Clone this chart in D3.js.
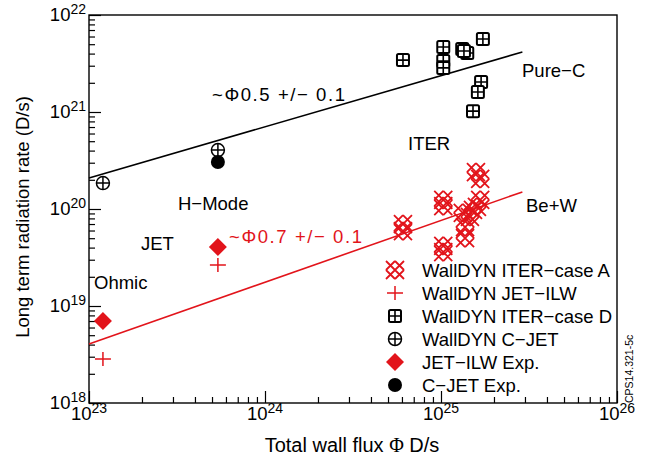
<!DOCTYPE html>
<html>
<head>
<meta charset="utf-8">
<script src="https://cdn.jsdelivr.net/npm/d3@7"></script>
<style>
  body { margin: 0; background: #fff; }
  svg text { font-family: "Liberation Sans", Arial, sans-serif; fill: #000; }
</style>
</head>
<body>
<svg id="chart" width="649" height="456"></svg>
<script>
// ---- data ----
const xDecades = [23, 24, 25, 26];
const yDecades = [18, 19, 20, 21, 22];

// WallDYN ITER-case A (red lattice crosses)
const iterA = [
  [1.58e25, 2.40e20], [1.67e25, 2.04e20], [1.03e25, 1.24e20], [1.03e25, 1.07e20],
  [6.08e24, 7.0e19], [6.08e24, 5.9e19], [1.03e25, 4.16e19], [1.03e25, 3.6e19],
  [1.67e25, 1.24e20], [1.33e25, 9.1e19], [1.46e25, 8.3e19], [1.37e25, 6.5e19],
  [1.37e25, 5.0e19], [1.52e25, 9.8e19], [1.60e25, 1.05e20]
];
// WallDYN JET-ILW (red plus)
const jetIlw = [[1.2e23, 2.85e18], [5.4e23, 2.65e19]];
// WallDYN ITER-case D (squares)
const iterD = [
  [6.08e24, 3.43e21], [1.03e25, 4.68e21], [1.03e25, 3.36e21], [1.03e25, 2.85e21],
  [1.32e25, 4.46e21], [1.41e25, 4.06e21], [1.35e25, 4.26e21], [1.73e25, 5.66e21],
  [1.69e25, 2.04e21], [1.62e25, 1.61e21], [1.52e25, 1.02e21]
];
// WallDYN C-JET (crossed circles)
const cJet = [[1.2e23, 1.85e20], [5.4e23, 4.05e20]];
// JET-ILW Exp. (red diamonds)
const jetIlwExp = [[1.2e23, 7.0e18], [5.4e23, 4.06e19]];
// C-JET Exp. (filled circles)
const cJetExp = [[5.4e23, 3.05e20]];

// fitted power laws
const fitC = [[1e23, 2.09e20], [2.9e25, 4.16e21]];
const fitBeW = [[1e23, 4.06e18], [2.9e25, 1.5e20]];

const legendLabels = [
  'WallDYN ITER\u2212case A', 'WallDYN JET\u2212ILW', 'WallDYN ITER\u2212case D',
  'WallDYN C\u2212JET', 'JET\u2212ILW Exp.', 'C\u2212JET Exp.'
];

// ---- layout ----
const RED = '#e2141b';
const margin = { top: 15, right: 32, bottom: 53, left: 89 };
const W = 649, H = 456;
const width = W - margin.left - margin.right;
const height = H - margin.top - margin.bottom;

const svg = d3.select('#chart');
const g = svg.append('g').attr('transform', `translate(${margin.left},${margin.top})`);

const x = d3.scaleLog().domain([1e23, 1e26]).range([0, width]);
const y = d3.scaleLog().domain([1e18, 1e22]).range([height, 0]);

const isMajor = d => Math.abs(Math.log10(d) - Math.round(Math.log10(d))) < 1e-6;

// ticks pointing inward, only on left and bottom
g.append('g')
  .attr('transform', `translate(0,${height})`)
  .call(d3.axisBottom(x).tickValues(x.ticks()).tickSize(-6).tickFormat(''))
  .call(ax => ax.select('.domain').remove())
  .call(ax => ax.selectAll('.tick line')
    .attr('y2', d => isMajor(d) ? -12 : -6)
    .attr('stroke', '#000').attr('stroke-width', 1.2));

g.append('g')
  .call(d3.axisLeft(y).tickValues(y.ticks()).tickSize(-6).tickFormat(''))
  .call(ax => ax.select('.domain').remove())
  .call(ax => ax.selectAll('.tick line')
    .attr('x2', d => isMajor(d) ? 12 : 6)
    .attr('stroke', '#000').attr('stroke-width', 1.2));

// frame
g.append('rect')
  .attr('width', width).attr('height', height)
  .attr('fill', 'none').attr('stroke', '#000').attr('stroke-width', 1.4);

// tick labels with superscripts
xDecades.forEach(k => {
  const t = g.append('text')
    .attr('x', x(Math.pow(10, k)))
    .attr('y', height + 17)
    .attr('text-anchor', 'middle')
    .attr('font-size', '18.5px');
  t.append('tspan').text('10');
  t.append('tspan').attr('dy', -7).attr('font-size', '14px').text(k);
});
yDecades.forEach(k => {
  const t = g.append('text')
    .attr('x', -3)
    .attr('y', y(Math.pow(10, k)) + 6)
    .attr('text-anchor', 'end')
    .attr('font-size', '18.5px');
  t.append('tspan').text('10');
  t.append('tspan').attr('dy', -7).attr('font-size', '14px').text(k);
});

// axis titles
const xt = svg.append('text')
  .attr('x', 352).attr('y', 452)
  .attr('text-anchor', 'middle')
  .attr('font-size', '20px');
xt.append('tspan').text('Total wall flux ');
xt.append('tspan').style('font-family', '"Liberation Serif", serif').text('\u03A6');
xt.append('tspan').text(' D/s');

svg.append('text')
  .attr('transform', 'translate(28.5,217) rotate(-90)')
  .attr('text-anchor', 'middle')
  .attr('font-size', '18.5px')
  .text('Long term radiation rate (D/s)');

svg.append('text')
  .attr('transform', 'translate(633,403) rotate(-90)')
  .attr('font-size', '10.5px')
  .text('CPS14.321-5c');

// fit lines
const line = d3.line().x(d => x(d[0])).y(d => y(d[1]));
g.append('path').datum(fitC)
  .attr('fill', 'none').attr('stroke', '#000').attr('stroke-width', 1.6).attr('d', line);
g.append('path').datum(fitBeW)
  .attr('fill', 'none').attr('stroke', RED).attr('stroke-width', 1.6).attr('d', line);

// ---- marker painters ----
function latticePath(s) {
  // three lines per diagonal direction, clipped to a square of half-size s
  const p = [];
  [-s, 0, s].forEach(c => {
    const a0 = Math.max(-s, -s - c), a1 = Math.min(s, s - c);
    p.push(`M${a0},${a0 + c}L${a1},${a1 + c}`);
    p.push(`M${a0},${-a0 - c}L${a1},${-a1 - c}`);
  });
  return p.join('');
}
function drawLattice(sel) {
  sel.append('path').attr('d', latticePath(9))
    .attr('fill', 'none').attr('stroke', RED).attr('stroke-width', 1.8);
}
function drawPlus(sel) {
  sel.append('path').attr('d', 'M-8,0H8M0,-7V7')
    .attr('fill', 'none').attr('stroke', RED).attr('stroke-width', 1.5);
}
function drawSquare(sel) {
  sel.append('rect').attr('x', -6).attr('y', -6).attr('width', 12).attr('height', 12)
    .attr('rx', 1.5).attr('fill', '#fff').attr('stroke', '#000').attr('stroke-width', 2);
  sel.append('path').attr('d', 'M-6,0H6M0,-6V6')
    .attr('stroke', '#000').attr('stroke-width', 1.6);
}
function drawCrossCircle(sel) {
  sel.append('circle').attr('r', 6.5).attr('fill', 'none')
    .attr('stroke', '#000').attr('stroke-width', 1.5);
  sel.append('path').attr('d', 'M-6.5,0H6.5M0,-6.5V6.5')
    .attr('stroke', '#000').attr('stroke-width', 1.5);
}
function drawDiamond(sel) {
  sel.append('path').attr('d', 'M0,-9L9,0L0,9L-9,0Z').attr('fill', RED);
}
function drawDot(sel) {
  sel.append('circle').attr('r', 7).attr('fill', '#000');
}

function plotSeries(data, painter) {
  g.selectAll(null).data(data).enter().append('g')
    .attr('transform', d => `translate(${x(d[0])},${y(d[1])})`)
    .each(function () { painter(d3.select(this)); });
}
plotSeries(iterA, drawLattice);
plotSeries(jetIlw, drawPlus);
plotSeries(iterD, drawSquare);
plotSeries(cJet, drawCrossCircle);
plotSeries(cJetExp, drawDot);
plotSeries(jetIlwExp, drawDiamond);

// ---- annotations ----
const notes = [
  { t: '~\u03A60.5 +/\u2212 0.1', x: 212, y: 101, c: '#000', len: 133 },
  { t: 'Pure\u2212C', x: 522, y: 77, c: '#000' },
  { t: 'ITER', x: 408, y: 150, c: '#000' },
  { t: 'H\u2212Mode', x: 178, y: 210, c: '#000' },
  { t: 'Be+W', x: 526, y: 212, c: '#000' },
  { t: 'JET', x: 141, y: 250, c: '#000' },
  { t: '~\u03A60.7 +/\u2212 0.1', x: 229, y: 243, c: RED, len: 133 },
  { t: 'Ohmic', x: 94, y: 289, c: '#000' }
];
notes.forEach(n => {
  const t = svg.append('text').attr('x', n.x).attr('y', n.y)
    .attr('font-size', '18.5px').style('fill', n.c).text(n.t);
  if (n.len) t.attr('textLength', n.len).attr('lengthAdjust', 'spacing');
});

// ---- legend ----
const painters = [drawLattice, drawPlus, drawSquare, drawCrossCircle, drawDiamond, drawDot];
legendLabels.forEach((lab, i) => {
  const cy = 270 + i * 23;
  const m = svg.append('g').attr('transform', `translate(395,${cy})`);
  painters[i](m);
  svg.append('text').attr('x', 422).attr('y', cy + 6.5)
    .attr('font-size', '18.5px').text(lab);
});
</script>
</body>
</html>
